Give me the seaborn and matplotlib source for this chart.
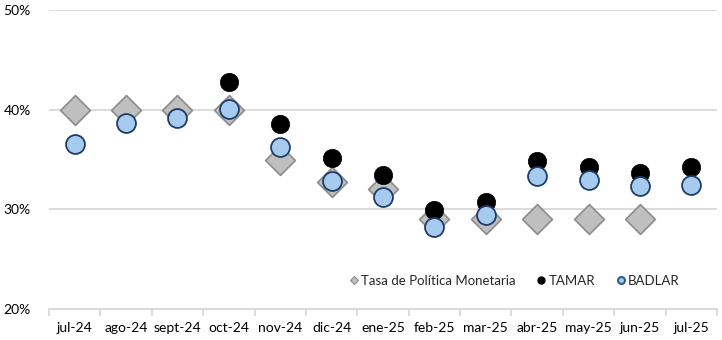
import matplotlib
matplotlib.use("Agg")
import matplotlib.pyplot as plt
import seaborn as sns
import numpy as np
import pandas as pd
from matplotlib.ticker import FixedLocator, PercentFormatter
from matplotlib.lines import Line2D

categories = ["jul-24", "ago-24", "sept-24", "oct-24", "nov-24", "dic-24", "ene-25",
              "feb-25", "mar-25", "abr-25", "may-25", "jun-25", "jul-25"]
tpm = [40, 40, 40, 40, 35, 32.7, 32, 29, 29, 29, 29, 29, np.nan]
tamar = [np.nan, np.nan, np.nan, 42.8, 38.6, 35.2, 33.4, 29.9, 30.75, 34.8, 34.2, 33.6, 34.2]
badlar = [36.6, 38.7, 39.2, 40.1, 36.3, 32.8, 31.2, 28.2, 29.4, 33.3, 32.9, 32.3, 32.45]
yticks = [20, 30, 40, 50]

sns.set_theme(style="white")
plt.rcParams["font.family"] = ["Lato", "DejaVu Sans"]

df = pd.DataFrame({"mes": categories, "tpm": tpm, "tamar": tamar, "badlar": badlar})

fig = plt.figure(figsize=(7.22, 3.4), dpi=100)
ax = fig.add_axes([49 / 722, 1 - 309 / 340, (717 - 49) / 722, (309 - 10) / 340])

sns.scatterplot(data=df, x="mes", y="tpm", marker="D", s=230, color="#BFBFBF",
                edgecolor="#8C8C8C", linewidth=1.2, ax=ax, zorder=3, legend=False)
sns.scatterplot(data=df, x="mes", y="tamar", marker="o", s=175, color="black",
                edgecolor="black", linewidth=0.5, ax=ax, zorder=4, legend=False)
sns.scatterplot(data=df, x="mes", y="badlar", marker="o", s=185, color="#A7CBEE",
                edgecolor="#1F3D66", linewidth=1.3, ax=ax, zorder=5, legend=False)

ax.set_xlim(-0.5, len(categories) - 0.5)
ax.set_ylim(20, 50)
ax.set_yticks(yticks)
ax.yaxis.set_major_formatter(PercentFormatter(decimals=0))
ax.grid(axis="y", color="#D9D9D9", linewidth=1.3, zorder=0)
ax.grid(axis="x", visible=False)
ax.set_xlabel("")
ax.set_ylabel("")
for s in ["left", "right", "top"]:
    ax.spines[s].set_visible(False)
ax.spines["bottom"].set_color("#D9D9D9")
ax.spines["bottom"].set_linewidth(1.3)
ax.set_xticks(range(len(categories)))
ax.set_xticklabels(categories)
ax.xaxis.set_minor_locator(FixedLocator(np.arange(-0.5, len(categories), 1.0)))
ax.tick_params(axis="x", which="major", length=0, pad=9, labelsize=10, colors="black")
ax.tick_params(axis="x", which="minor", length=5, width=1.3, color="#D9D9D9", bottom=True)
ax.tick_params(axis="y", length=0, pad=13, labelsize=10, colors="black")
for lbl in ax.get_yticklabels():
    lbl.set_horizontalalignment("right")

handles = [
    Line2D([], [], linestyle="none", marker="D", markersize=4.5, markerfacecolor="#BFBFBF",
           markeredgecolor="#8C8C8C", markeredgewidth=0.8),
    Line2D([], [], linestyle="none", marker="o", markersize=5, markerfacecolor="black",
           markeredgecolor="black"),
    Line2D([], [], linestyle="none", marker="o", markersize=5, markerfacecolor="#A7CBEE",
           markeredgecolor="#2E5C94", markeredgewidth=1.5),
]
labels = ["Tasa de Política Monetaria", "TAMAR", "BADLAR"]
ax.legend(handles, labels, ncol=3, frameon=False, loc="lower right",
          bbox_to_anchor=(0.962, 0.035), fontsize=9.5,
          handlelength=0.7, handletextpad=0.2, columnspacing=1.6)

fig.savefig("out.png", dpi=100)
